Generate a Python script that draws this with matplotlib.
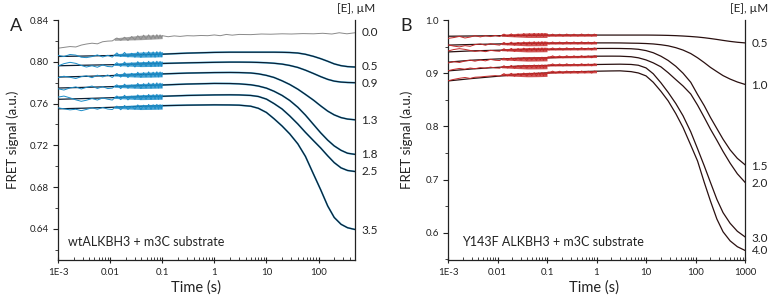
import matplotlib
matplotlib.use("Agg")
import matplotlib.pyplot as plt
from matplotlib.ticker import FixedLocator, FixedFormatter, MultipleLocator, LogLocator, NullFormatter

plt.rcParams['font.family'] = ['Lato', 'DejaVu Sans']

# ---- shared time grids (s) ----
t_noisy = [0.001, 0.0013, 0.0017, 0.0022, 0.0028, 0.0035, 0.0045, 0.0057, 0.0072, 0.009,
           0.011, 0.0135, 0.016, 0.019, 0.022, 0.026, 0.03, 0.034, 0.039, 0.044,
           0.049, 0.055, 0.061, 0.067, 0.073, 0.079, 0.085, 0.091, 0.096, 0.1]
t_mid = [0.11, 0.13, 0.15, 0.18, 0.21, 0.25, 0.3, 0.35, 0.42, 0.5, 0.58, 0.68, 0.8, 0.9, 1.0]
t_late = [0.13, 0.17, 0.22, 0.3, 0.4, 0.55, 0.75, 1.0, 1.3, 1.7, 2.2, 3, 5, 8, 12, 20,
          30, 50, 80, 120, 180, 250, 350, 500]
t_band_a = [0.012, 0.02, 0.04, 0.07, 0.1]
t_band_b = [0.012, 0.02, 0.04, 0.07, 0.1, 0.1, 0.3, 1.0]
t_fit_a = [0.001, 0.003, 0.01, 0.03, 0.1, 0.3, 1, 2, 3, 5, 7, 10, 14, 20, 28, 40, 56, 80,
           110, 150, 200, 270, 360, 500]
t_fit_b = [0.001, 0.003, 0.01, 0.03, 0.1, 0.3, 1, 2, 3, 5, 7, 10, 14, 20, 28, 40, 56, 80,
           110, 150, 200, 270, 360, 500, 700, 1000]

# ---- panel A: wtALKBH3 ----
conc_a = ['0.0', '0.5', '0.9', '1.3', '1.8', '2.5', '3.5']
label_y_a = [0.8276, 0.7953, 0.7796, 0.7436, 0.7110, 0.6948, 0.6390]

gray_a = [0.8130, 0.8138, 0.8146, 0.8142, 0.8160, 0.8170, 0.8178, 0.8172, 0.8192, 0.8198,
          0.8200, 0.8228, 0.8206, 0.8235, 0.8204, 0.8242, 0.8210, 0.8250, 0.8214, 0.8255,
          0.8220, 0.8258, 0.8218, 0.8256, 0.8222, 0.8260, 0.8224, 0.8258, 0.8228, 0.8250,
          0.8240, 0.8248, 0.8243, 0.8250, 0.8248, 0.8252, 0.8250, 0.8257, 0.8250, 0.8262,
          0.8255, 0.8262, 0.8260, 0.8266, 0.8264, 0.8268, 0.8266, 0.8270, 0.8268, 0.8273,
          0.8266, 0.8278, 0.8268, 0.8278]
gray_band_lo = [0.8205, 0.8208, 0.8212, 0.8218, 0.8222]
gray_band_hi = [0.8228, 0.8240, 0.8255, 0.8258, 0.8258]

data_a = [
    [0.8062, 0.8050, 0.8070, 0.8064, 0.8044, 0.8040, 0.8050, 0.8066, 0.8046, 0.8062,
     0.8045, 0.8085, 0.8050, 0.8090, 0.8046, 0.8082, 0.8044, 0.8094, 0.8042, 0.8092,
     0.8050, 0.8097, 0.8047, 0.8095, 0.8044, 0.8098, 0.8050, 0.8097, 0.8048, 0.8085],
    [0.7960, 0.7982, 0.7995, 0.7985, 0.7965, 0.7950, 0.7962, 0.7948, 0.7970, 0.7955,
     0.7952, 0.7992, 0.7956, 0.7998, 0.7952, 0.7990, 0.7950, 0.8002, 0.7954, 0.7999,
     0.7957, 0.8005, 0.7953, 0.8003, 0.7956, 0.8006, 0.7958, 0.8004, 0.7956, 0.7995],
    [0.7848, 0.7862, 0.7852, 0.7840, 0.7858, 0.7866, 0.7848, 0.7872, 0.7855, 0.7874,
     0.7850, 0.7888, 0.7853, 0.7894, 0.7849, 0.7890, 0.7855, 0.7900, 0.7851, 0.7897,
     0.7857, 0.7904, 0.7853, 0.7901, 0.7858, 0.7905, 0.7855, 0.7903, 0.7860, 0.7894],
    [0.7742, 0.7730, 0.7750, 0.7760, 0.7740, 0.7755, 0.7768, 0.7745, 0.7762, 0.7744,
     0.7748, 0.7780, 0.7743, 0.7786, 0.7746, 0.7778, 0.7748, 0.7794, 0.7744, 0.7791,
     0.7750, 0.7798, 0.7747, 0.7795, 0.7751, 0.7799, 0.7749, 0.7796, 0.7753, 0.7788],
    [0.7662, 0.7672, 0.7655, 0.7636, 0.7622, 0.7632, 0.7648, 0.7634, 0.7654, 0.7642,
     0.7634, 0.7673, 0.7638, 0.7680, 0.7635, 0.7671, 0.7640, 0.7684, 0.7637, 0.7681,
     0.7642, 0.7688, 0.7639, 0.7685, 0.7643, 0.7689, 0.7641, 0.7686, 0.7645, 0.7680],
    [0.7560, 0.7550, 0.7540, 0.7546, 0.7532, 0.7544, 0.7560, 0.7546, 0.7562, 0.7548,
     0.7543, 0.7576, 0.7541, 0.7582, 0.7544, 0.7574, 0.7546, 0.7588, 0.7542, 0.7585,
     0.7548, 0.7592, 0.7545, 0.7589, 0.7549, 0.7593, 0.7547, 0.7590, 0.7551, 0.7584],
]
# envelope of the dense noise between 0.012 and 0.1 s
band_lo_a = [
    [0.8056, 0.8050, 0.8044, 0.8046, 0.8048],
    [0.7966, 0.7960, 0.7954, 0.7956, 0.7958],
    [0.7864, 0.7858, 0.7852, 0.7854, 0.7856],
    [0.7757, 0.7751, 0.7745, 0.7747, 0.7749],
    [0.7650, 0.7644, 0.7638, 0.7640, 0.7642],
    [0.7555, 0.7549, 0.7543, 0.7545, 0.7547],
]
band_hi_a = [
    [0.8076, 0.8085, 0.8094, 0.8096, 0.8096],
    [0.7986, 0.7995, 0.8002, 0.8005, 0.8006],
    [0.7884, 0.7892, 0.7900, 0.7903, 0.7904],
    [0.7777, 0.7785, 0.7793, 0.7796, 0.7797],
    [0.7670, 0.7678, 0.7686, 0.7689, 0.7690],
    [0.7575, 0.7583, 0.7590, 0.7593, 0.7594],
]

fit_a = [
    [0.8051, 0.8055, 0.8060, 0.8066, 0.8073, 0.8083, 0.8090, 0.8092, 0.8092, 0.8092, 0.8092, 0.8092,
     0.8092, 0.8091, 0.8089, 0.8084, 0.8072, 0.8052, 0.8030, 0.8005, 0.7980, 0.7963, 0.7954, 0.7950],
    [0.7962, 0.7967, 0.7972, 0.7978, 0.7984, 0.7990, 0.7995, 0.7997, 0.7997, 0.7996, 0.7994, 0.7991,
     0.7986, 0.7978, 0.7965, 0.7946, 0.7920, 0.7888, 0.7858, 0.7832, 0.7815, 0.7806, 0.7802, 0.7800],
    [0.7854, 0.7860, 0.7868, 0.7876, 0.7884, 0.7892, 0.7897, 0.7898, 0.7897, 0.7893, 0.7885, 0.7870,
     0.7850, 0.7818, 0.7783, 0.7738, 0.7688, 0.7633, 0.7578, 0.7528, 0.7492, 0.7466, 0.7452, 0.7445],
    [0.7749, 0.7755, 0.7762, 0.7770, 0.7778, 0.7787, 0.7793, 0.7792, 0.7789, 0.7780, 0.7768, 0.7748,
     0.7718, 0.7678, 0.7630, 0.7565, 0.7490, 0.7400, 0.7320, 0.7250, 0.7195, 0.7153, 0.7125, 0.7114],
    [0.7641, 0.7648, 0.7656, 0.7664, 0.7670, 0.7678, 0.7683, 0.7684, 0.7683, 0.7678, 0.7668, 0.7643,
     0.7600, 0.7548, 0.7482, 0.7405, 0.7325, 0.7245, 0.7175, 0.7100, 0.7035, 0.6985, 0.6960, 0.6950],
    [0.7550, 0.7556, 0.7564, 0.7572, 0.7580, 0.7585, 0.7588, 0.7587, 0.7585, 0.7575, 0.7555, 0.7515,
     0.7455, 0.7385, 0.7310, 0.7215, 0.7095, 0.6925, 0.6775, 0.6620, 0.6510, 0.6445, 0.6412, 0.6395],
]

# ---- panel B: Y143F ALKBH3 ----
conc_b = ['0.5', '1.0', '1.5', '2.0', '3.0', '4.0']
label_y_b = [0.9560, 0.8774, 0.7245, 0.6920, 0.5900, 0.5673]

data_b = [
    [0.9655, 0.9670, 0.9692, 0.9662, 0.9680, 0.9705, 0.9682, 0.9706, 0.9688, 0.9710,
     0.9690, 0.9735, 0.9695, 0.9740, 0.9688, 0.9736, 0.9696, 0.9745, 0.9690, 0.9742,
     0.9698, 0.9748, 0.9692, 0.9745, 0.9697, 0.9749, 0.9691, 0.9746, 0.9699, 0.9735,
     0.9698, 0.9735, 0.9700, 0.9733, 0.9697, 0.9736, 0.9700, 0.9734, 0.9699, 0.9737,
     0.9701, 0.9733, 0.9698, 0.9735, 0.9717],
    [0.9532, 0.9510, 0.9495, 0.9518, 0.9505, 0.9538, 0.9550, 0.9526, 0.9555, 0.9538,
     0.9528, 0.9578, 0.9534, 0.9584, 0.9527, 0.9579, 0.9536, 0.9589, 0.9530, 0.9586,
     0.9538, 0.9592, 0.9532, 0.9589, 0.9537, 0.9593, 0.9531, 0.9590, 0.9540, 0.9580,
     0.9550, 0.9588, 0.9552, 0.9586, 0.9549, 0.9589, 0.9553, 0.9587, 0.9551, 0.9590,
     0.9554, 0.9586, 0.9550, 0.9588, 0.9570],
    [0.9418, 0.9445, 0.9462, 0.9448, 0.9428, 0.9410, 0.9424, 0.9405, 0.9430, 0.9418,
     0.9412, 0.9460, 0.9418, 0.9466, 0.9410, 0.9462, 0.9420, 0.9472, 0.9414, 0.9469,
     0.9422, 0.9475, 0.9416, 0.9471, 0.9423, 0.9476, 0.9417, 0.9472, 0.9425, 0.9462,
     0.9438, 0.9476, 0.9440, 0.9474, 0.9437, 0.9477, 0.9441, 0.9475, 0.9439, 0.9478,
     0.9442, 0.9474, 0.9438, 0.9476, 0.9462],
    [0.9192, 0.9218, 0.9202, 0.9230, 0.9245, 0.9226, 0.9250, 0.9232, 0.9260, 0.9244,
     0.9238, 0.9284, 0.9244, 0.9290, 0.9237, 0.9286, 0.9246, 0.9297, 0.9240, 0.9294,
     0.9250, 0.9300, 0.9243, 0.9297, 0.9250, 0.9302, 0.9244, 0.9298, 0.9253, 0.9290,
     0.9290, 0.9327, 0.9292, 0.9325, 0.9289, 0.9328, 0.9293, 0.9326, 0.9291, 0.9329,
     0.9294, 0.9325, 0.9291, 0.9328, 0.9318],
    [0.9048, 0.9072, 0.9090, 0.9075, 0.9098, 0.9085, 0.9105, 0.9092, 0.9115, 0.9100,
     0.9094, 0.9140, 0.9099, 0.9146, 0.9093, 0.9142, 0.9101, 0.9152, 0.9096, 0.9149,
     0.9104, 0.9156, 0.9098, 0.9152, 0.9105, 0.9157, 0.9100, 0.9154, 0.9107, 0.9146,
     0.9138, 0.9176, 0.9140, 0.9174, 0.9137, 0.9177, 0.9141, 0.9175, 0.9139, 0.9178,
     0.9142, 0.9174, 0.9139, 0.9177, 0.9162],
    [0.8858, 0.8884, 0.8905, 0.8920, 0.8902, 0.8925, 0.8930, 0.8940, 0.8948, 0.8955,
     0.8944, 0.8992, 0.8950, 0.8998, 0.8943, 0.8995, 0.8952, 0.9005, 0.8947, 0.9002,
     0.8955, 0.9010, 0.8950, 0.9007, 0.8957, 0.9012, 0.8952, 0.9009, 0.8960, 0.9002,
     0.9002, 0.9040, 0.9004, 0.9038, 0.9001, 0.9041, 0.9005, 0.9039, 0.9003, 0.9042,
     0.9006, 0.9038, 0.9003, 0.9041, 0.9030],
]
band_lo_b = [
    [0.9695, 0.9685, 0.9672, 0.9672, 0.9672, 0.9694, 0.9695, 0.9696],
    [0.9538, 0.9528, 0.9515, 0.9517, 0.9518, 0.9547, 0.9549, 0.9549],
    [0.9423, 0.9413, 0.9400, 0.9402, 0.9404, 0.9435, 0.9437, 0.9439],
    [0.9250, 0.9240, 0.9227, 0.9230, 0.9232, 0.9286, 0.9290, 0.9295],
    [0.9102, 0.9092, 0.9080, 0.9082, 0.9084, 0.9135, 0.9138, 0.9143],
    [0.8955, 0.8945, 0.8933, 0.8936, 0.8940, 0.8998, 0.9003, 0.9008],
]
band_hi_b = [
    [0.9735, 0.9745, 0.9758, 0.9760, 0.9760, 0.9738, 0.9739, 0.9740],
    [0.9575, 0.9585, 0.9598, 0.9600, 0.9602, 0.9591, 0.9593, 0.9593],
    [0.9460, 0.9470, 0.9483, 0.9486, 0.9488, 0.9479, 0.9481, 0.9483],
    [0.9287, 0.9297, 0.9310, 0.9314, 0.9316, 0.9330, 0.9334, 0.9339],
    [0.9140, 0.9150, 0.9163, 0.9166, 0.9168, 0.9179, 0.9182, 0.9187],
    [0.8993, 0.9003, 0.9016, 0.9020, 0.9024, 0.9042, 0.9047, 0.9052],
]

fit_b = [
    [0.9695, 0.9700, 0.9705, 0.9710, 0.9715, 0.9717, 0.9717, 0.9717, 0.9717, 0.9717, 0.9717, 0.9717, 0.9716,
     0.9714, 0.9711, 0.9706, 0.9699, 0.9690, 0.9680, 0.9667, 0.9652, 0.9635, 0.9617, 0.9598, 0.9582, 0.9570],
    [0.9528, 0.9540, 0.9550, 0.9560, 0.9565, 0.9570, 0.9570, 0.9570, 0.9569, 0.9565, 0.9563, 0.9558, 0.9550,
     0.9535, 0.9515, 0.9480, 0.9435, 0.9370, 0.9290, 0.9200, 0.9110, 0.9030, 0.8955, 0.8890, 0.8835, 0.8790],
    [0.9400, 0.9420, 0.9432, 0.9442, 0.9447, 0.9457, 0.9465, 0.9466, 0.9465, 0.9460, 0.9450, 0.9425, 0.9385,
     0.9320, 0.9240, 0.9130, 0.9000, 0.8830, 0.8600, 0.8390, 0.8170, 0.7960, 0.7760, 0.7560, 0.7400, 0.7280],
    [0.9208, 0.9245, 0.9268, 0.9282, 0.9289, 0.9305, 0.9320, 0.9321, 0.9320, 0.9310, 0.9290, 0.9250, 0.9195,
     0.9120, 0.9010, 0.8880, 0.8760, 0.8610, 0.8400, 0.8170, 0.7950, 0.7740, 0.7530, 0.7310, 0.7110, 0.6950],
    [0.9044, 0.9080, 0.9110, 0.9135, 0.9145, 0.9155, 0.9164, 0.9168, 0.9170, 0.9165, 0.9150, 0.9100, 0.8990,
     0.8820, 0.8640, 0.8430, 0.8200, 0.7900, 0.7580, 0.7260, 0.6950, 0.6630, 0.6380, 0.6180, 0.6030, 0.5925],
    [0.8855, 0.8900, 0.8943, 0.8980, 0.9006, 0.9025, 0.9038, 0.9043, 0.9045, 0.9030, 0.9005, 0.8950, 0.8830,
     0.8660, 0.8480, 0.8240, 0.7980, 0.7650, 0.7350, 0.6950, 0.6600, 0.6260, 0.6020, 0.5850, 0.5740, 0.5670],
]

x_ticks_a = [0.001, 0.01, 0.1, 1, 10, 100]
x_labels_a = ['1E-3', '0.01', '0.1', '1', '10', '100']
x_ticks_b = [0.001, 0.01, 0.1, 1, 10, 100, 1000]
x_labels_b = ['1E-3', '0.01', '0.1', '1', '10', '100', '1000']

TXT = '#222222'
fig = plt.figure(figsize=(7.71, 3.0), dpi=100)
ax_a = fig.add_axes([0.0752, 0.1333, 0.3852, 0.8])
ax_b = fig.add_axes([0.5811, 0.1333, 0.3852, 0.8])


def style_axes(ax, xlim, ylim, xt, xl, ymaj, ymin, yfmt):
    ax.set_xscale('log')
    ax.set_xlim(*xlim)
    ax.set_ylim(*ylim)
    ax.xaxis.set_major_locator(FixedLocator(xt))
    ax.xaxis.set_major_formatter(FixedFormatter(xl))
    ax.xaxis.set_minor_locator(LogLocator(base=10, subs=range(2, 10)))
    ax.xaxis.set_minor_formatter(NullFormatter())
    ax.yaxis.set_major_locator(MultipleLocator(ymaj))
    ax.yaxis.set_minor_locator(MultipleLocator(ymin))
    ax.yaxis.set_major_formatter(plt.FormatStrFormatter(yfmt))
    ax.spines['top'].set_visible(False)
    for s in ['left', 'bottom', 'right']:
        ax.spines[s].set_linewidth(0.9)
        ax.spines[s].set_color('#222222')
    ax.tick_params(axis='x', which='major', direction='inout', length=4, width=0.8,
                   labelsize=7, colors=TXT, pad=4)
    ax.tick_params(axis='x', which='minor', direction='in', length=2, width=0.6, colors=TXT)
    ax.tick_params(axis='y', which='major', direction='out', length=3.5, width=0.8,
                   labelsize=7, colors=TXT, pad=3)
    ax.tick_params(axis='y', which='minor', direction='out', length=2, width=0.6, colors=TXT)


# panel A
blue = '#1a8cc8'
blue_glow = '#5cc3ec'
fit_col_a = '#0c1f33'
ax_a.fill_between(t_band_a, gray_band_lo, gray_band_hi, color='#8a8a8a', lw=0, alpha=0.8)
ax_a.plot(t_noisy + t_late, gray_a, color='#8a8a8a', lw=0.7)
for d, f, lo, hi in zip(data_a, fit_a, band_lo_a, band_hi_a):
    ax_a.plot(t_fit_a[4:], f[4:], color=blue_glow, lw=1.3, solid_capstyle='butt', zorder=1)
    ax_a.plot(t_noisy, d, color=blue, lw=0.7, zorder=3)
    ax_a.fill_between(t_band_a, lo, hi, color=blue, lw=0, alpha=0.8, zorder=3)
for f in fit_a:
    ax_a.plot(t_fit_a, f, color=fit_col_a, lw=0.9, zorder=2)
style_axes(ax_a, (0.001, 500), (0.6103, 0.84), x_ticks_a, x_labels_a, 0.04, 0.02, '%.2f')
for c, yv in zip(conc_a, label_y_a):
    ax_a.text(1.022, yv, c, transform=ax_a.get_yaxis_transform(), fontsize=8.5,
              color=TXT, va='center', ha='left')
ax_a.text(0.034, 0.075, 'wtALKBH3 + m3C substrate', transform=ax_a.transAxes,
          fontsize=9, color=TXT, va='center', ha='left')

# panel B
red = '#c42a2a'
fit_col_b = '#2a1010'
for d, lo, hi in zip(data_b, band_lo_b, band_hi_b):
    ax_b.plot(t_noisy + t_mid, d, color=red, lw=0.7, zorder=3)
    ax_b.fill_between(t_band_b, lo, hi, color=red, lw=0, alpha=0.8, zorder=3)
for f in fit_b:
    ax_b.plot(t_fit_b, f, color=fit_col_b, lw=0.9, zorder=2)
style_axes(ax_b, (0.001, 1000), (0.549, 1.0), x_ticks_b, x_labels_b, 0.1, 0.05, '%.1f')
for c, yv in zip(conc_b, label_y_b):
    ax_b.text(1.022, yv, c, transform=ax_b.get_yaxis_transform(), fontsize=8.5,
              color=TXT, va='center', ha='left')
ax_b.text(0.047, 0.075, 'Y143F ALKBH3 + m3C substrate', transform=ax_b.transAxes,
          fontsize=9, color=TXT, va='center', ha='left')

# figure-level labels
fig.text(13 / 771, 0.5333, 'FRET signal (a.u.)', rotation=90, fontsize=9.5, color=TXT,
         ha='center', va='center')
fig.text(407 / 771, 0.5333, 'FRET signal (a.u.)', rotation=90, fontsize=9.5, color=TXT,
         ha='center', va='center')
fig.text(196 / 771, 1 - 288 / 300, 'Time (s)', fontsize=10.5, color=TXT, ha='center', va='center')
fig.text(594 / 771, 1 - 288 / 300, 'Time (s)', fontsize=10.5, color=TXT, ha='center', va='center')
fig.text(10 / 771, 1 - 26 / 300, 'A', fontsize=13, color=TXT, ha='left', va='center')
fig.text(400 / 771, 1 - 26 / 300, 'B', fontsize=13, color=TXT, ha='left', va='center')
fig.text(337 / 771, 1 - 9 / 300, '[E], \u00b5M', fontsize=8.5, color=TXT, ha='left', va='center')
fig.text(730 / 771, 1 - 9 / 300, '[E], \u00b5M', fontsize=8.5, color=TXT, ha='left', va='center')

fig.savefig('out.png', dpi=100, facecolor='white')
